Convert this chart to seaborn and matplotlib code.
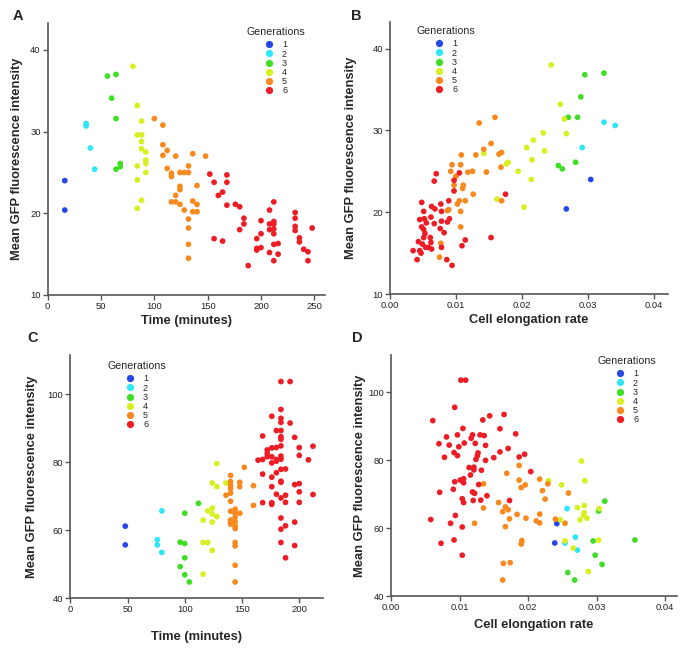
import matplotlib
matplotlib.use("Agg")
import matplotlib.pyplot as plt
from matplotlib.lines import Line2D
import pandas as pd
import seaborn as sns

# Panel A: time (minutes) vs mean GFP intensity
time_a = [16, 16,
          36, 36, 40, 44,
          56, 64, 60, 64, 68, 68, 64,
          80, 84, 88, 84, 88, 88, 88, 92, 92, 92, 84, 92, 84, 88, 84,
          100, 108, 108, 112, 108, 120, 136, 148, 112, 116, 116, 124, 128, 132,
          132, 124, 124, 120, 116, 120, 124, 128, 140, 136, 140, 136, 140, 132,
          132, 132, 132,
          152, 156, 168, 168, 164, 160, 168, 176, 180, 184, 184, 180, 156, 164,
          188, 200, 196, 200, 196, 196, 200, 208, 208, 208, 212, 212, 212, 212,
          212, 208, 212, 216, 216, 212, 232, 232, 232, 232, 236, 236, 240, 244,
          244, 248]
gfp_a = [24.0, 20.4,
         31.0, 30.7, 28.0, 25.4,
         36.8, 37.0, 34.1, 31.6, 26.1, 25.7, 25.4,
         38.0, 33.2, 31.3, 29.6, 29.6, 28.8, 27.9, 27.5, 26.5, 26.1, 25.8, 25.0,
         24.1, 21.6, 20.6,
         31.6, 30.8, 28.4, 27.7, 27.1, 27.0, 27.3, 27.0, 25.5, 24.9, 24.5, 25.0,
         25.0, 25.0, 25.8, 23.3, 22.9, 22.2, 21.4, 21.4, 21.1, 20.4, 23.4, 21.5,
         21.1, 20.2, 20.2, 19.3, 18.2, 16.2, 14.5,
         24.8, 23.8, 24.7, 23.8, 22.6, 22.2, 21.0, 21.1, 20.8, 19.4, 18.7, 18.0,
         16.9, 16.6, 13.6, 19.1, 16.9, 17.5, 15.7, 15.5, 15.8, 20.4, 18.7, 18.0,
         21.4, 19.0, 18.7, 18.1, 17.5, 15.2, 16.2, 16.3, 15.0, 14.2, 20.1, 19.4,
         18.4, 17.9, 17.0, 16.5, 15.6, 15.3, 14.2, 18.2]
gen_a = [1] * 2 + [2] * 4 + [3] * 7 + [4] * 15 + [5] * 31 + [6] * 44

# Panel B: cell elongation rate vs mean GFP intensity
rate_b = [0.0304, 0.0267,
          0.0324, 0.0341, 0.0291,
          0.0324, 0.0295, 0.0289, 0.0270, 0.0284, 0.0281, 0.0255, 0.0261,
          0.0244, 0.0258, 0.0264, 0.0267, 0.0232, 0.0217, 0.0207, 0.0234, 0.0215,
          0.0179, 0.0194, 0.0214, 0.0142, 0.0162, 0.0203, 0.0176,
          0.0159, 0.0135, 0.0153, 0.0142, 0.0169, 0.0165, 0.0130, 0.0108, 0.0094,
          0.0107, 0.0168, 0.0092, 0.0118, 0.0125, 0.0146, 0.0100, 0.0097, 0.0111,
          0.0110, 0.0126, 0.0105, 0.0114, 0.0102, 0.0169, 0.0087, 0.0089, 0.0107,
          0.0107, 0.0077, 0.0075,
          0.0070, 0.0067, 0.0097, 0.0105, 0.0097, 0.0175, 0.0048, 0.0077, 0.0089,
          0.0063, 0.0068, 0.0051, 0.0045, 0.0052, 0.0062, 0.0078, 0.0078, 0.0087,
          0.0090, 0.0055, 0.0067, 0.0048, 0.0051, 0.0076, 0.0082, 0.0053, 0.0061,
          0.0051, 0.0043, 0.0049, 0.0062, 0.0054, 0.0045, 0.0035, 0.0058, 0.0063,
          0.0078, 0.0047, 0.0041, 0.0086, 0.0094, 0.0109, 0.0114, 0.0153]
gfp_b = [24.0, 20.4,
         31.0, 30.6, 27.9,
         37.0, 36.8, 34.1, 31.6, 31.6, 26.1, 25.7, 25.3,
         38.0, 33.2, 31.4, 29.6, 29.7, 28.8, 27.9, 27.5, 26.4, 26.1, 25.0, 24.0,
         27.2, 21.6, 20.6, 25.9,
         31.6, 30.9, 28.4, 27.7, 27.3, 27.1, 27.0, 27.0, 25.8, 25.8, 25.5, 25.0,
         24.9, 25.0, 24.9, 24.4, 23.3, 23.3, 22.9, 22.2, 21.4, 21.4, 21.0, 21.4,
         20.2, 20.3, 20.1, 18.2, 16.2, 14.5,
         24.7, 23.8, 23.9, 24.8, 22.6, 22.2, 21.2, 21.0, 21.4, 20.7, 20.4, 20.1,
         19.1, 19.2, 19.4, 20.1, 18.9, 18.8, 19.2, 18.7, 18.6, 18.2, 17.9, 18.0,
         17.5, 17.4, 16.9, 16.9, 16.4, 16.1, 16.3, 15.7, 15.3, 15.3, 15.7, 15.5,
         15.7, 15.0, 14.2, 14.2, 13.5, 15.9, 16.6, 16.9]
gen_b = [1] * 2 + [2] * 3 + [3] * 8 + [4] * 16 + [5] * 30 + [6] * 44

# Panel C: time (minutes) vs mean GFP intensity
time_c = [48, 48,
          80, 76, 76, 80,
          112, 100, 96, 100, 100, 96, 100, 104,
          128, 124, 128, 136, 120, 124, 124, 128, 116, 124, 116, 120, 124, 116,
          152, 140, 140, 140, 140, 140, 136, 148, 148, 160, 160, 140, 140, 144,
          144, 148, 140, 140, 140, 144, 144, 144, 144, 144, 144, 144, 144,
          184, 192, 184, 176, 184, 184, 192, 196, 168, 180, 184, 184, 184, 176,
          180, 172, 172, 200, 212, 184, 172, 176, 184, 200, 164, 168, 180, 184,
          176, 180, 208, 188, 184, 180, 168, 176, 184, 184, 196, 200, 176, 180,
          200, 212, 188, 184, 168, 176, 176, 188, 200, 184, 196, 188, 184, 184,
          196, 188]
gfp_c = [61.2, 55.7,
         65.7, 57.2, 55.7, 53.5,
         67.9, 65.0, 56.5, 56.1, 51.9, 49.3, 46.9, 44.8,
         79.6, 73.9, 72.8, 73.9, 65.7, 66.5, 64.8, 64.0, 63.0, 62.4, 56.4, 56.4,
         54.1, 47.1,
         78.5, 76.1, 74.3, 73.2, 72.2, 70.9, 70.3, 74.1, 72.8, 73.1, 67.3, 68.5,
         65.6, 66.2, 65.0, 65.0, 63.0, 62.4, 61.8, 63.8, 62.5, 61.2, 60.5, 56.4,
         55.4, 49.7, 44.8,
         103.7, 103.7, 95.5, 93.5, 92.9, 91.7, 91.5, 87.3, 87.7, 89.3, 89.3, 87.5,
         86.7, 84.2, 84.3, 83.6, 82.6, 84.3, 84.7, 84.8, 81.6, 81.6, 81.8, 82.0,
         80.6, 80.8, 80.8, 80.9, 79.8, 80.3, 80.7, 78.0, 77.9, 76.9, 76.5, 75.6,
         74.4, 74.1, 73.4, 73.7, 72.8, 70.6, 71.3, 70.5, 70.3, 69.5, 68.1, 68.1,
         67.6, 68.2, 68.2, 63.6, 62.4, 61.3, 60.3, 56.4, 55.5, 51.9]
gen_c = [1] * 2 + [2] * 4 + [3] * 8 + [4] * 14 + [5] * 27 + [6] * 58

# Panel D: cell elongation rate vs mean GFP intensity
rate_d = [0.0242, 0.0239,
          0.0257, 0.0269, 0.0254, 0.0272,
          0.0312, 0.0303, 0.0356, 0.0295, 0.0298, 0.0308, 0.0258, 0.0268,
          0.0278, 0.0283, 0.0249, 0.0230, 0.0272, 0.0282, 0.0282, 0.0281, 0.0286,
          0.0276, 0.0247, 0.0304, 0.0254, 0.0303, 0.0266, 0.0288,
          0.0187, 0.0169, 0.0187, 0.0217, 0.0229, 0.0135, 0.0196, 0.0190, 0.0221,
          0.0259, 0.0157, 0.0225, 0.0135, 0.0167, 0.0171, 0.0163, 0.0173, 0.0184,
          0.0217, 0.0197, 0.0212, 0.0217, 0.0240, 0.0254, 0.0122, 0.0167, 0.0191,
          0.0190, 0.0164, 0.0174, 0.0163,
          0.0102, 0.0109, 0.0093, 0.0061, 0.0134, 0.0144, 0.0165, 0.0105, 0.0159,
          0.0081, 0.0097, 0.0119, 0.0117, 0.0130, 0.0136, 0.0182, 0.0070, 0.0085,
          0.0099, 0.0107, 0.0123, 0.0138, 0.0171, 0.0159, 0.0092, 0.0097, 0.0127,
          0.0126, 0.0195, 0.0187, 0.0150, 0.0078, 0.0124, 0.0138, 0.0114, 0.0121,
          0.0121, 0.0132, 0.0204, 0.0116, 0.0101, 0.0106, 0.0093, 0.0106, 0.0128,
          0.0071, 0.0091, 0.0119, 0.0122, 0.0140, 0.0104, 0.0106, 0.0120, 0.0131,
          0.0173, 0.0094, 0.0058, 0.0087, 0.0104, 0.0092, 0.0073, 0.0104]
gfp_d = [61.3, 55.6,
         65.7, 57.3, 55.6, 53.5,
         67.9, 65.0, 56.5, 56.2, 52.0, 49.3, 46.9, 44.7,
         79.7, 73.9, 72.7, 73.9, 66.0, 66.6, 64.5, 63.8, 62.9, 62.4, 62.4, 65.7,
         56.2, 56.4, 54.1, 47.2,
         78.4, 76.1, 74.1, 74.4, 73.0, 73.0, 72.7, 71.9, 71.0, 70.3, 67.5, 68.5,
         65.9, 66.2, 65.4, 64.8, 62.7, 64.0, 64.1, 62.9, 62.1, 61.5, 62.6, 61.4,
         61.4, 60.4, 56.3, 55.3, 49.6, 49.8, 44.7,
         103.5, 103.5, 95.5, 91.6, 91.8, 93.0, 93.4, 89.3, 89.2, 86.8, 87.4, 87.4,
         86.4, 87.4, 87.2, 87.7, 84.8, 84.4, 83.9, 85.0, 84.9, 84.3, 83.4, 82.4,
         82.2, 81.3, 82.1, 81.2, 81.7, 80.9, 80.7, 80.8, 80.2, 79.9, 77.8, 77.9,
         77.1, 77.0, 76.6, 75.6, 74.1, 74.5, 73.6, 73.3, 72.8, 70.5, 71.4, 70.6,
         70.2, 69.5, 68.6, 67.5, 68.1, 68.2, 68.1, 63.7, 62.5, 61.4, 60.3, 56.5,
         55.5, 52.0]
gen_d = [1] * 2 + [2] * 4 + [3] * 8 + [4] * 16 + [5] * 31 + [6] * 62

generations = [1, 2, 3, 4, 5, 6]
gen_colors = ["#2547e6", "#2de6f7", "#3fdd26", "#d8ef22", "#f8891f", "#ec1d25"]
palette = dict(zip(generations, gen_colors))

sns.set_style("ticks")
plt.rcParams["font.family"] = ["Liberation Sans", "DejaVu Sans"]

fig = plt.figure(figsize=(6.85, 6.5), dpi=100)
W, H = 685, 650


def add_axes(left, right, top, bottom):
    return fig.add_axes([left / W, 1 - bottom / H, (right - left) / W, (bottom - top) / H])


panels = [
    dict(ax=add_axes(47.7, 325, 23, 295), x=time_a, y=gfp_a, g=gen_a,
         xlim=(0, 260), ylim=(10, 43.3), xticks=[0, 50, 100, 150, 200, 250],
         yticks=[10, 20, 30, 40], xlabel="Time (minutes)", xfmt="{:g}",
         xpad=3, ypad=5, letter="A", lpos=(18, 16), leg=(276, 27)),
    dict(ax=add_axes(390, 668, 22, 294), x=rate_b, y=gfp_b, g=gen_b,
         xlim=(0, 0.0421), ylim=(10, 43.25), xticks=[0, 0.01, 0.02, 0.03, 0.04],
         yticks=[10, 20, 30, 40], xlabel="Cell elongation rate", xfmt="{:.2f}",
         xpad=3, ypad=11, letter="B", lpos=(356, 16), leg=(446, 26)),
    dict(ax=add_axes(70.3, 323.3, 355, 598.3), x=time_c, y=gfp_c, g=gen_c,
         xlim=(0, 221), ylim=(40, 111.5), xticks=[0, 50, 100, 150, 200],
         yticks=[40, 60, 80, 100], xlabel="Time (minutes)", xfmt="{:g}",
         xpad=12, ypad=7, letter="C", lpos=(33, 338), leg=(137, 361)),
    dict(ax=add_axes(391, 676.7, 355, 596), x=rate_d, y=gfp_d, g=gen_d,
         xlim=(0, 0.0417), ylim=(40, 110.9), xticks=[0, 0.01, 0.02, 0.03, 0.04],
         yticks=[40, 60, 80, 100], xlabel="Cell elongation rate", xfmt="{:.2f}",
         xpad=5, ypad=2, letter="D", lpos=(357, 338), leg=(627, 356)),
]

for p in panels:
    ax = p["ax"]
    df = pd.DataFrame({"x": p["x"], "y": p["y"], "gen": p["g"]})
    sns.scatterplot(data=df, x="x", y="y", hue="gen", palette=palette,
                    s=17, linewidth=0, legend=False, ax=ax, zorder=3)
    ax.set_xlim(*p["xlim"])
    ax.set_ylim(*p["ylim"])
    ax.set_xticks(p["xticks"])
    ax.set_xticklabels([p["xfmt"].format(v) for v in p["xticks"]])
    ax.set_yticks(p["yticks"])
    ax.set_xlabel(p["xlabel"], fontsize=9.3, fontweight="bold", labelpad=p["xpad"])
    ax.set_ylabel("Mean GFP fluorescence intensity", fontsize=9.3,
                  fontweight="bold", labelpad=p["ypad"])
    sns.despine(ax=ax)
    for side in ["left", "bottom"]:
        ax.spines[side].set_color("#555555")
        ax.spines[side].set_linewidth(1.2)
    ax.tick_params(axis="both", labelsize=6.8, length=3.5, width=1,
                   color="#555555", labelcolor="#222222", pad=1.5)

    handles = [Line2D([], [], marker="o", ls="", color=c, markersize=5.2,
                      markeredgewidth=0) for c in gen_colors]
    leg = ax.legend(handles, [str(g) for g in generations], title="Generations",
                    loc="upper center", bbox_to_anchor=(p["leg"][0] / W, 1 - p["leg"][1] / H),
                    bbox_transform=fig.transFigure, frameon=False, fontsize=6.5,
                    title_fontsize=7.7, labelspacing=0.02, handlelength=1.0,
                    handletextpad=0.9, borderpad=0, borderaxespad=0)
    # gap between the title and the first row
    leg._legend_box.sep = 2.5
    fig.text(p["lpos"][0] / W, 1 - p["lpos"][1] / H, p["letter"], fontsize=10.5,
             fontweight="bold", ha="center", va="center")

fig.savefig("out.png", dpi=100)
